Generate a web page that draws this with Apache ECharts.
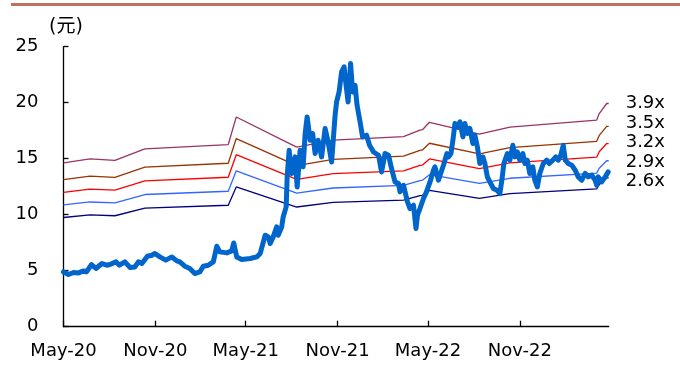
<!DOCTYPE html>
<html><head><meta charset="utf-8">
<script src="https://cdn.jsdelivr.net/npm/echarts@6/dist/echarts.min.js"></script>
<style>html,body{margin:0;padding:0;background:#fff}#c{width:680px;height:365px}</style>
</head><body><div id="c"></div><script>
// ---- data ----
const priceDates = ['2020-05-01','2020-05-11','2020-05-21','2020-05-31','2020-06-10','2020-06-16','2020-06-26','2020-07-05','2020-07-17','2020-07-27',
'2020-08-02','2020-08-14','2020-08-21','2020-09-01','2020-09-11','2020-09-21','2020-09-28','2020-10-05','2020-10-16','2020-10-25',
'2020-10-31','2020-11-10','2020-11-22','2020-12-04','2020-12-14','2020-12-20','2020-12-30','2021-01-09','2021-01-19','2021-01-29',
'2021-02-05','2021-02-15','2021-02-25','2021-03-04','2021-03-10','2021-03-24','2021-04-03','2021-04-07','2021-04-13','2021-04-23',
'2021-05-10','2021-05-23','2021-05-30','2021-06-09','2021-06-15','2021-06-19','2021-06-25','2021-07-02','2021-07-05','2021-07-12',
'2021-07-15','2021-07-21','2021-07-23','2021-07-27','2021-08-01','2021-08-08','2021-08-12','2021-08-18','2021-08-24','2021-08-28',
'2021-09-01','2021-09-07','2021-09-12','2021-09-17','2021-09-23','2021-09-30','2021-10-07','2021-10-13','2021-10-20','2021-10-27',
'2021-10-30','2021-11-04','2021-11-09','2021-11-14','2021-11-18','2021-11-22','2021-11-27','2021-12-01','2021-12-06','2021-12-10',
'2021-12-16','2021-12-21','2021-12-29','2022-01-04','2022-01-12','2022-01-22','2022-01-28','2022-02-04','2022-02-11','2022-02-17',
'2022-02-24','2022-03-03','2022-03-06','2022-03-13','2022-03-21','2022-03-26','2022-04-02','2022-04-07','2022-04-10','2022-04-15',
'2022-04-22','2022-04-28','2022-05-05','2022-05-12','2022-05-15','2022-05-22','2022-06-01','2022-06-08','2022-06-11','2022-06-16',
'2022-06-20','2022-06-24','2022-06-29','2022-07-04','2022-07-10','2022-07-14','2022-07-19','2022-07-24','2022-07-30','2022-08-03',
'2022-08-08','2022-08-13','2022-08-19','2022-08-23','2022-08-28','2022-09-02','2022-09-09','2022-09-16','2022-09-22','2022-09-26',
'2022-09-30','2022-10-07','2022-10-12','2022-10-18','2022-10-22','2022-10-27','2022-11-01','2022-11-07','2022-11-11','2022-11-16',
'2022-11-21','2022-11-27','2022-12-01','2022-12-06','2022-12-11','2022-12-18','2022-12-25','2022-12-30','2023-01-06','2023-01-12',
'2023-01-17','2023-01-22','2023-01-27','2023-01-31','2023-02-06','2023-02-13','2023-02-20','2023-02-26','2023-03-05','2023-03-12',
'2023-03-18','2023-03-25','2023-04-01','2023-04-04','2023-04-07','2023-04-14','2023-04-21','2023-04-27'];
const priceValues = [4.89,4.66,4.84,4.80,4.98,4.89,5.55,5.20,5.64,5.49,
5.55,5.79,5.49,5.79,5.29,5.34,5.79,5.64,6.29,6.38,
6.54,6.23,5.94,6.23,5.88,5.79,5.40,5.20,4.75,4.89,
5.40,5.49,5.79,7.19,6.68,6.59,6.77,7.48,6.23,6.00,
6.09,6.23,6.54,8.17,8.02,7.43,8.02,8.91,8.17,8.91,
9.80,10.70,13.40,15.76,13.68,15.16,12.48,15.76,14.27,17.25,
18.73,16.65,17.25,15.46,16.65,15.16,17.70,16.50,14.71,18.88,
20.07,20.96,22.75,23.20,21.56,20.07,23.50,20.96,21.56,19.78,
18.29,16.95,17.10,16.20,15.60,15.31,13.82,15.46,15.31,14.13,
12.93,12.79,12.04,12.63,11.14,10.55,10.85,8.77,9.96,10.55,
11.45,12.04,12.90,13.97,14.27,13.08,14.42,15.46,15.16,15.46,
16.65,18.14,17.84,18.29,16.95,18.14,17.25,17.70,16.36,17.10,
16.05,14.57,15.16,14.57,13.38,12.93,12.34,12.19,11.89,13.08,
14.57,15.46,14.87,16.20,15.16,15.60,14.87,15.46,14.57,14.87,
13.68,14.27,13.08,12.48,13.68,14.57,14.87,14.57,14.87,15.16,
14.87,15.31,16.20,14.87,14.57,14.42,13.97,13.38,13.08,13.68,
13.38,13.53,13.08,12.63,13.38,12.93,13.38,13.82];
const bandDates = ['2020-05-01','2020-06-23','2020-08-12','2020-10-11','2021-03-27','2021-04-12','2021-08-11','2021-10-23',
'2022-03-13','2022-04-15','2022-04-20','2022-05-04','2022-08-12','2022-10-12','2023-04-04','2023-04-09','2023-04-24','2023-04-28'];
const bookValuePerShare = [3.75,3.84,3.81,4.07,4.17,4.80,4.11,4.27,4.35,4.50,4.51,4.68,4.41,4.57,4.73,4.88,5.11,5.11];
const multiples = [3.9,3.5,3.2,2.9,2.6];
const multipleLabels = ['3.9x','3.5x','3.2x','2.9x','2.6x'];
const tickDates = ['2020-05-01','2020-11-01','2021-05-01','2021-11-01','2022-05-01','2022-11-01'];
const tickLabels = ['May-20','Nov-20','May-21','Nov-21','May-22','Nov-22'];
const axisStart = '2020-05-01', axisEnd = '2023-04-28';

// ---- styles ----
const bandColors = ['#993366','#993300','#FF0000','#3366FF','#000080'];
const labelShift = [0,-3.5,-1.2,1.3,3.7];
const FONT = 'DejaVu Sans, Liberation Sans, sans-serif';

function toTime(s){const p=s.split('-').map(Number);return Date.UTC(p[0],p[1]-1,p[2]);}
const tickTimes = tickDates.map(toTime);

const series = multiples.map((m,k)=>({
  type:'line', name:multipleLabels[k], showSymbol:false, silent:true,
  data: bandDates.map((d,i)=>[toTime(d), +(bookValuePerShare[i]*m).toFixed(3)]),
  lineStyle:{color:bandColors[k], width:1.3}, itemStyle:{color:bandColors[k]},
  endLabel:{show:true, formatter:multipleLabels[k], color:'#000', fontSize:18, fontFamily:FONT, distance:17, offset:[0,labelShift[k]]},
  z:2
}));
series.push({
  type:'line', name:'price', showSymbol:false, silent:true,
  data: priceDates.map((d,i)=>[toTime(d), priceValues[i]]),
  lineStyle:{color:'#0066CC', width:5, join:'round', cap:'round'}, itemStyle:{color:'#0066CC'},
  z:5
});

const chart = echarts.init(document.getElementById('c'), null, {renderer:'canvas'});
chart.setOption({
  animation:false,
  backgroundColor:'#fff',
  grid:{left:63.5, top:46.7, right:71.3, bottom:38.3, containLabel:false},
  graphic:[{type:'rect', left:11, top:3, shape:{width:669, height:3}, style:{fill:'#C0715A'}, silent:true}],
  xAxis:{
    type:'value', min:toTime(axisStart), max:toTime(axisEnd),
    axisLine:{show:true, onZero:false, lineStyle:{color:'#000', width:1.3}},
    axisTick:{show:true, inside:true, length:6, customValues:tickTimes, lineStyle:{color:'#000', width:1.3}},
    axisLabel:{customValues:tickTimes, color:'#000', fontSize:18, fontFamily:FONT, margin:16,
      formatter:(v)=>{const i=tickTimes.indexOf(v);return i>=0?tickLabels[i]:'';}},
    splitLine:{show:false}
  },
  yAxis:{
    type:'value', min:0, max:25, interval:5,
    name:'(元)', nameLocation:'end', nameGap:20,
    nameTextStyle:{color:'#000', fontSize:19, fontFamily:'DejaVu Sans, Noto Sans CJK SC', align:'center', verticalAlign:'middle', padding:[0,0,0,5]},
    axisLine:{show:true, lineStyle:{color:'#000', width:1.3}},
    axisTick:{show:true, inside:true, length:5, lineStyle:{color:'#000', width:1.3}},
    axisLabel:{color:'#000', fontSize:18, fontFamily:FONT, margin:25},
    splitLine:{show:false}
  },
  series:series
});
</script></body></html>
